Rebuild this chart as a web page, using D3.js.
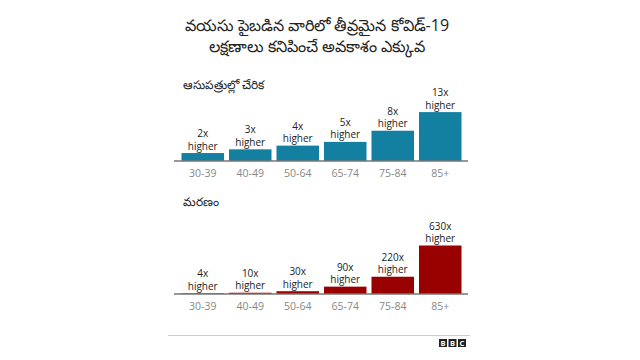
<!DOCTYPE html>
<html><head><meta charset="utf-8">
<script src="https://cdn.jsdelivr.net/npm/d3@7"></script>
<style>body{margin:0;background:#fff}svg{display:block}text{font-family:"Open Sans","Noto Sans",sans-serif}</style>
</head><body><svg id="c" width="640" height="360"></svg>
<script>
const titleLines = ["వయసు పైబడిన వారిలో తీవ్రమైన కోవిడ్-19", "లక్షణాలు కనిపించే అవకాశం ఎక్కువ"];
const ageGroups = ["30-39","40-49","50-64","65-74","75-84","85+"];
const hospTitle = "ఆసుపత్రుల్లో చేరిక";
const hospValues = [2,3,4,5,8,13];
const deathTitle = "మరణం";
const deathValues = [4,10,30,90,220,630];

const svg = d3.select("#c");
svg.append("rect").attr("width",640).attr("height",360).attr("fill","#fff");

const title = svg.append("text").attr("x",317).attr("text-anchor","middle").attr("font-size",16).attr("fill","#222");
titleLines.forEach((t,i)=>title.append("tspan").attr("x",317).attr("y",31+i*21).text(t));

const x = d3.scaleBand().domain(ageGroups).range([181.5,461.5]).paddingInner(0.105).paddingOuter(0.0);
const labFont = "'Liberation Sans',Arial,sans-serif";

function panel(sub, subY, baseY, values, color, maxH){
  const g = svg.append("g");
  g.append("text").attr("x",183).attr("y",subY).attr("font-size",12).attr("fill","#222").text(sub);
  const y = d3.scaleLinear().domain([0, d3.max(values)]).range([baseY, baseY-maxH]);
  g.selectAll("rect.bar").data(values).join("rect").attr("class","bar")
    .attr("x",(d,i)=>x(ageGroups[i])).attr("width",x.bandwidth())
    .attr("y",d=>y(d)).attr("height",d=>baseY-y(d)).attr("fill",color);
  g.append("line").attr("x1",174).attr("x2",468).attr("y1",baseY+0.5).attr("y2",baseY+0.5).attr("stroke","#333").attr("stroke-width",1.2);
  const cx = (d,i)=>x(ageGroups[i])+x.bandwidth()/2;
  g.selectAll("text.num").data(values).join("text").attr("class","num")
    .attr("text-anchor","middle").attr("font-size",10).attr("fill","#222").attr("font-family",labFont)
    .attr("x",cx).attr("y",d=>y(d)-16).text(d=>d+"x");
  g.selectAll("text.hi").data(values).join("text").attr("class","hi")
    .attr("text-anchor","middle").attr("font-size",10).attr("fill","#222").attr("font-family",labFont)
    .attr("x",cx).attr("y",d=>y(d)-3.5).text("higher");
  const axis = d3.axisBottom(x).tickSize(0).tickPadding(9);
  const ag = g.append("g").attr("transform",`translate(0,${baseY})`).call(axis);
  ag.select(".domain").remove();
  ag.selectAll("text").attr("font-size",10.5).attr("fill","#888").attr("font-family",labFont);
}
panel(hospTitle, 89, 160.5, hospValues, "#1380a1", 48.4);
panel(deathTitle, 206, 293.5, deathValues, "#990000", 48);

svg.append("line").attr("x1",168).attr("x2",470).attr("y1",335.5).attr("y2",335.5).attr("stroke","#ccc").attr("stroke-width",1);
const bbc = svg.append("g").attr("transform","translate(439,339)");
["B","B","C"].forEach((l,i)=>{
  bbc.append("rect").attr("x",i*9.5).attr("y",0).attr("width",8).attr("height",8).attr("fill","#222");
  bbc.append("text").attr("x",i*9.5+4).attr("y",6.8).attr("text-anchor","middle").attr("font-size",7.5).attr("font-weight","bold").attr("fill","#fff").attr("font-family","Arial,'Liberation Sans',sans-serif").text(l);
});
</script></body></html>
